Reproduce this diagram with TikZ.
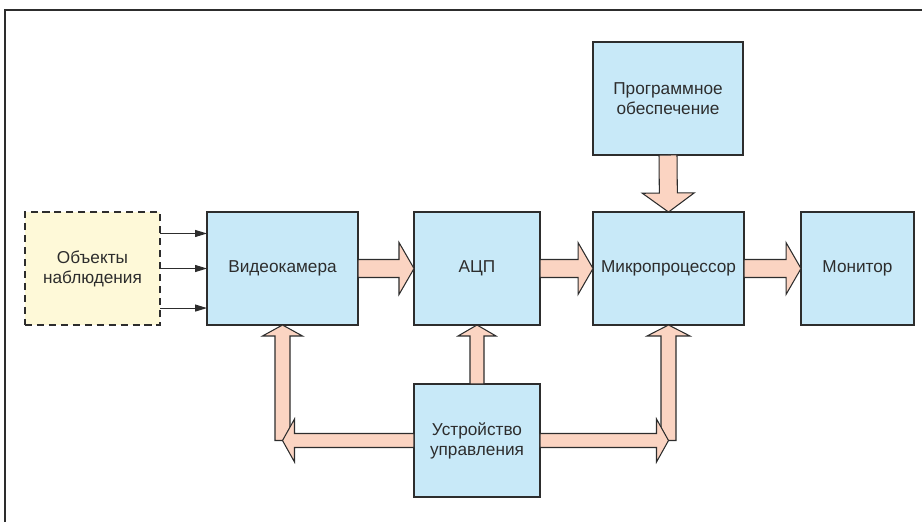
\documentclass[tikz,border=0pt]{standalone}
\usepackage{fontspec}
\setmainfont{Liberation Sans}
\usetikzlibrary{arrows.meta,calc}
\definecolor{boxblue}{RGB}{200,233,248}
\definecolor{arrowpink}{RGB}{251,212,194}
\definecolor{objyellow}{RGB}{254,249,216}
\definecolor{linegray}{RGB}{45,45,45}
\newcommand{\fatarrow}[5]{%
  \coordinate (fa-h) at ($(#2)!#5!(#1)$);
  \draw[fat arrow] ($(#1)!#3!-90:(#2)$) -- ($(fa-h)!#3!-90:(#2)$) -- ($(fa-h)!#4!-90:(#2)$) -- (#2)
    -- ($(fa-h)!#4!90:(#2)$) -- ($(fa-h)!#3!90:(#2)$) -- ($(#1)!#3!90:(#2)$) -- cycle;
}
\begin{document}
\begin{tikzpicture}[x=0.02cm,y=-0.02cm,font=\fontsize{9.8}{11.5}\selectfont,
    main node/.style={rectangle,draw=linegray,fill=boxblue,line width=0.6pt,text=linegray,
      minimum height=2.26cm,inner sep=0pt,outer sep=0pt,align=center},
    fat arrow/.style={draw=linegray,fill=arrowpink,line width=0.6pt,line join=miter}]
                \useasboundingbox (0,0) rectangle (922,522);
                \draw[linegray,line width=0.8pt] (5,522) -- (5,10) -- (922,10);

                \node[main node,minimum width=2.7cm,fill=objyellow,dash pattern=on 4pt off 2.8pt] at (92.5,268.5) (obj) {Объекты\\наблюдения};
                \node[main node,minimum width=3.02cm] at (282.5,268.5) (cam) {Видеокамера};
                \node[main node,minimum width=2.52cm] at (477,268.5) (adc) {АЦП};
                \node[main node,minimum width=3.02cm] at (668.5,268.5) (mp) {Микропроцессор};
                \node[main node,minimum width=2.26cm] at (857.5,268.5) (mon) {Монитор};
                \node[main node,minimum width=3.0cm] at (668,98.5) (soft) {Программное\\обеспечение};
                \node[main node,minimum width=2.52cm] at (477,440.5) (ctrl) {Устройство\\управления};
                \coordinate (lj) at (cam.south |- ctrl.west);
                \coordinate (rj) at (mp.south |- ctrl.east);

                \foreach \f in {0.19,0.5,0.85}
                    \draw[-{Triangle[length=0.24cm,width=0.14cm]},linegray,line width=0.6pt]
                        ($(obj.north east)!\f!(obj.south east)$) -- ($(cam.north west)!\f!(cam.south west)$);

                \fatarrow{cam.east}{adc.west}{0.18cm}{0.52cm}{0.3cm}
                \fatarrow{adc.east}{mp.west}{0.18cm}{0.52cm}{0.3cm}
                \fatarrow{mp.east}{mon.west}{0.18cm}{0.52cm}{0.3cm}
                \fatarrow{soft.south}{mp.north}{0.18cm}{0.52cm}{0.38cm}

                \fatarrow{ctrl.north}{adc.south}{0.14cm}{0.38cm}{0.22cm}
                \fatarrow{lj}{cam.south}{0.15cm}{0.4cm}{0.22cm}
                \fatarrow{ctrl.west}{lj}{0.14cm}{0.43cm}{0.24cm}
                \fatarrow{rj}{mp.south}{0.15cm}{0.43cm}{0.22cm}
                \fatarrow{ctrl.east}{rj}{0.14cm}{0.43cm}{0.24cm}
            \end{tikzpicture}
\end{document}
